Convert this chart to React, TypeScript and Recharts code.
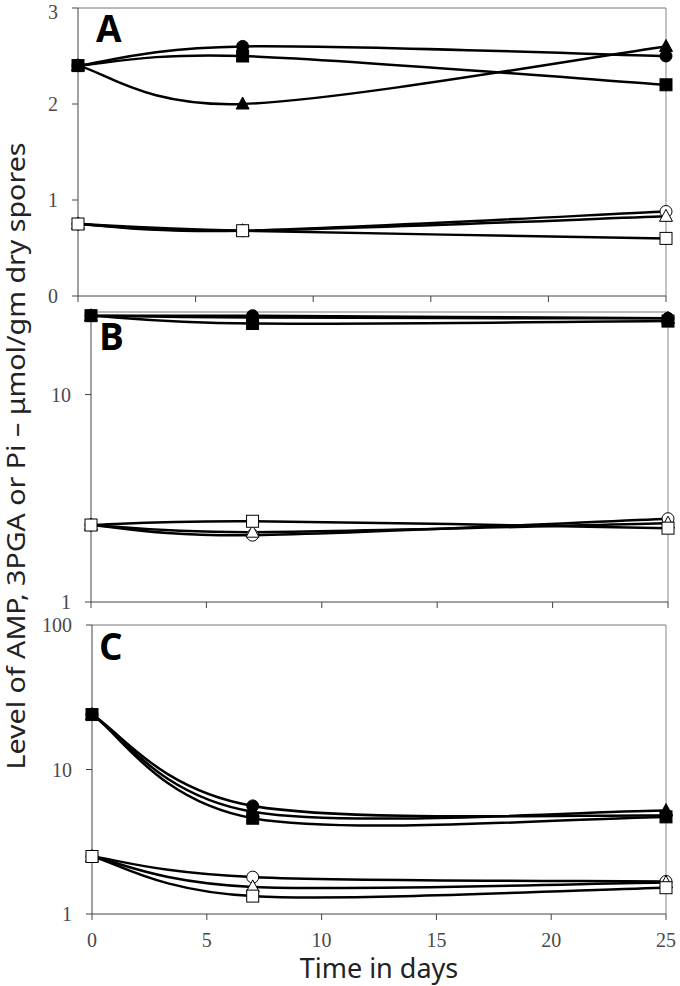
import React from 'react';
import { LineChart, Line, XAxis, YAxis, ReferenceLine } from 'recharts';

const days = [0, 7, 25];
const xTicks = [0, 5, 10, 15, 20, 25];

// panel A (linear)
const aFilledCircle = [2.4, 2.6, 2.5];
const aFilledTriangle = [2.4, 2.0, 2.6];
const aFilledSquare = [2.4, 2.5, 2.2];
const aOpenCircle = [0.75, 0.68, 0.88];
const aOpenTriangle = [0.75, 0.68, 0.83];
const aOpenSquare = [0.75, 0.68, 0.6];
const aTicks = [0, 1, 2, 3];

// panel B (log)
const bFilledCircle = [24, 24, 23.3];
const bFilledTriangle = [24, 23.5, 23.3];
const bFilledSquare = [24, 22, 22.6];
const bOpenCircle = [2.35, 2.1, 2.52];
const bOpenTriangle = [2.35, 2.17, 2.4];
const bOpenSquare = [2.35, 2.45, 2.27];
const bTicks = [1, 10];

// panel C (log)
const cFilledCircle = [24, 5.6, 4.8];
const cFilledTriangle = [24, 5.1, 5.2];
const cFilledSquare = [24, 4.6, 4.7];
const cOpenCircle = [2.5, 1.8, 1.68];
const cOpenTriangle = [2.5, 1.54, 1.65];
const cOpenSquare = [2.5, 1.33, 1.52];
const cTicks = [1, 10, 100];

const makeRows = (fc: number[], ft: number[], fs: number[], oc: number[], ot: number[], os: number[]) =>
  days.map((d, i) => ({ day: d, fc: fc[i], ft: ft[i], fs: fs[i], oc: oc[i], ot: ot[i], os: os[i] }));

const rowsA = makeRows(aFilledCircle, aFilledTriangle, aFilledSquare, aOpenCircle, aOpenTriangle, aOpenSquare);
const rowsB = makeRows(bFilledCircle, bFilledTriangle, bFilledSquare, bOpenCircle, bOpenTriangle, bOpenSquare);
const rowsC = makeRows(cFilledCircle, cFilledTriangle, cFilledSquare, cOpenCircle, cOpenTriangle, cOpenSquare);

// spreadsheet-style smoothed line (Catmull-Rom bezier, end points repeated)
const smoothCurve = (context: any) => {
  let pts: number[][] = [];
  return {
    areaStart() {},
    areaEnd() {},
    lineStart() {
      pts = [];
    },
    lineEnd() {
      if (!pts.length) return;
      context.moveTo(pts[0][0], pts[0][1]);
      for (let i = 0; i < pts.length - 1; i++) {
        const p0 = pts[i - 1] || pts[i];
        const p1 = pts[i];
        const p2 = pts[i + 1];
        const p3 = pts[i + 2] || pts[i + 1];
        const k = 1 / 6;
        context.bezierCurveTo(
          p1[0] + (p2[0] - p0[0]) * k,
          p1[1] + (p2[1] - p0[1]) * k,
          p2[0] - (p3[0] - p1[0]) * k,
          p2[1] - (p3[1] - p1[1]) * k,
          p2[0],
          p2[1]
        );
      }
    },
    point(x: number, y: number) {
      pts.push([+x, +y]);
    },
  };
};

const makeDot = (shape: 'circle' | 'triangle' | 'square', filled: boolean) => (props: any) => {
  const { cx, cy, index } = props;
  if (cx == null || cy == null) return <g key={index} />;
  const fill = filled ? '#000' : '#fff';
  const stroke = '#000';
  if (shape === 'circle') {
    return <circle key={index} cx={cx} cy={cy} r={6} fill={fill} stroke={stroke} strokeWidth={1} />;
  }
  if (shape === 'square') {
    return <rect key={index} x={cx - 6} y={cy - 6} width={12} height={12} fill={fill} stroke={stroke} strokeWidth={1} />;
  }
  return (
    <polygon
      key={index}
      points={`${cx},${cy - 7} ${cx + 6.5},${cy + 5} ${cx - 6.5},${cy + 5}`}
      fill={fill}
      stroke={stroke}
      strokeWidth={1}
    />
  );
};

const series: { key: string; shape: 'circle' | 'triangle' | 'square'; filled: boolean }[] = [
  { key: 'fc', shape: 'circle', filled: true },
  { key: 'ft', shape: 'triangle', filled: true },
  { key: 'fs', shape: 'square', filled: true },
  { key: 'oc', shape: 'circle', filled: false },
  { key: 'ot', shape: 'triangle', filled: false },
  { key: 'os', shape: 'square', filled: false },
];

const tickFont = { fontFamily: '"Liberation Serif", serif', fontSize: 20, fill: '#4a4a4a' };

interface PanelProps {
  rows: any[];
  width: number;
  height: number;
  margin: { top: number; right: number; left: number; bottom: number };
  yWidth: number;
  log: boolean;
  yDomain: [number, number];
  yTicks: number[];
  showXLabels: boolean;
  xHeight: number;
}

const Panel: React.FC<PanelProps> = ({ rows, width, height, margin, yWidth, log, yDomain, yTicks, showXLabels, xHeight }) => (
  <LineChart width={width} height={height} data={rows} margin={margin}>
    <XAxis
      dataKey="day"
      type="number"
      domain={[0, 25]}
      ticks={xTicks}
      height={xHeight}
      stroke="#444"
      tickSize={6}
      tickMargin={13}
      tick={tickFont}
      tickFormatter={(v: number) => (showXLabels ? String(v) : '')}
      label={
        showXLabels
          ? {
              value: 'Time in days',
              position: 'insideBottom',
              offset: 8,
              style: { fontFamily: '"Noto Sans", sans-serif', fontSize: 27, fill: '#222' },
            }
          : undefined
      }
    />
    <YAxis
      type="number"
      scale={log ? 'log' : 'linear'}
      domain={yDomain}
      ticks={yTicks}
      width={yWidth}
      stroke="#444"
      tickSize={6}
      tickMargin={14}
      tick={tickFont}
    />
    <ReferenceLine y={yDomain[1]} stroke="#777" strokeWidth={1} />
    <ReferenceLine x={25} stroke="#888" strokeWidth={1} />
    {series.map((s) => (
      <Line
        key={s.key}
        dataKey={s.key}
        type={smoothCurve as any}
        stroke="#000"
        strokeWidth={2.5}
        dot={makeDot(s.shape, s.filled)}
        activeDot={false}
        isAnimationActive={false}
      />
    ))}
  </LineChart>
);

const letterStyle = { fontFamily: '"Open Sans", sans-serif', fontWeight: 700, fontSize: 37, fill: '#000' };

export default function App() {
  return (
    <div style={{ position: 'absolute', left: 0, top: 0, width: 680, height: 986, background: '#fff' }}>
      <div style={{ position: 'absolute', left: 0, top: 0 }}>
        <Panel
          rows={rowsA}
          width={680}
          height={310}
          margin={{ top: 8, right: 14, left: 0, bottom: 0 }}
          yWidth={78}
          log={false}
          yDomain={[0, 3]}
          yTicks={aTicks}
          showXLabels={false}
          xHeight={14}
        />
      </div>
      <div style={{ position: 'absolute', left: 0, top: 300 }}>
        <Panel
          rows={rowsB}
          width={680}
          height={316}
          margin={{ top: 12, right: 12, left: 0, bottom: 0 }}
          yWidth={91}
          log={true}
          yDomain={[1, 25]}
          yTicks={bTicks}
          showXLabels={false}
          xHeight={14}
        />
      </div>
      <div style={{ position: 'absolute', left: 0, top: 610 }}>
        <Panel
          rows={rowsC}
          width={680}
          height={376}
          margin={{ top: 15, right: 14, left: 0, bottom: 0 }}
          yWidth={92}
          log={true}
          yDomain={[1, 100]}
          yTicks={cTicks}
          showXLabels={true}
          xHeight={72}
        />
      </div>
      <svg
        width={680}
        height={986}
        style={{ position: 'absolute', left: 0, top: 0, pointerEvents: 'none' }}
      >
        <text x={96} y={42} style={letterStyle}>A</text>
        <text x={99} y={350} style={letterStyle}>B</text>
        <text x={99} y={660} style={letterStyle}>C</text>
        <text
          x={25}
          y={456}
          textAnchor="middle"
          transform="rotate(-90, 25, 456)"
          textLength={627}
          lengthAdjust="spacingAndGlyphs"
          style={{ fontFamily: '"Noto Sans", sans-serif', fontSize: 25, fill: '#222' }}
        >
          Level of AMP, 3PGA or Pi – μmol/gm dry spores
        </text>
      </svg>
    </div>
  );
}
